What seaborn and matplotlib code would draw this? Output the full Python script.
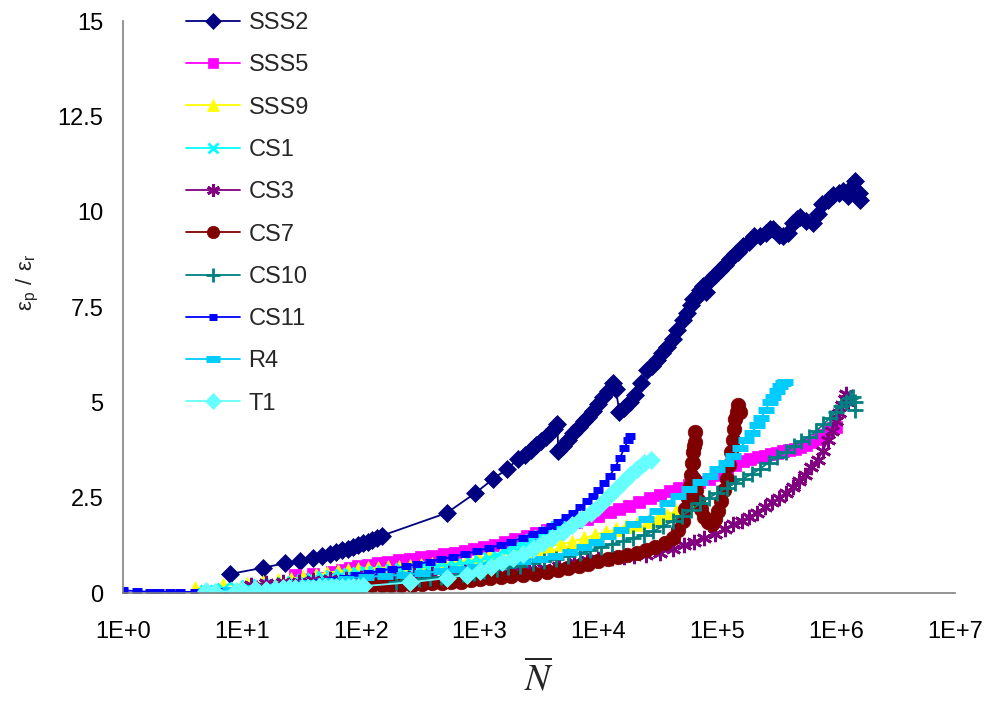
import math
import matplotlib
matplotlib.use("Agg")
import matplotlib.pyplot as plt
import seaborn as sns
from matplotlib.ticker import FixedLocator, FuncFormatter, NullLocator

# ---- data: number of cycles N and strain ratio eps_p / eps_r ----
sss2_n = [8, 15, 23, 31, 40, 47, 55, 62, 70, 78, 86, 95, 105, 115, 125, 138, 150,
          530, 920, 1300, 1700, 2100, 2400, 2700, 3000, 3300, 3600, 3900, 4200, 4500,
          4600, 5000, 5500, 6100, 6800, 7500, 8200, 9000, 10000, 11000, 12000, 13300,
          14000, 15000, 16500, 18500, 20500, 23000, 25800, 28000, 31000, 34000, 38000,
          42000, 46000, 51700, 56000, 60000, 63000, 68000, 72000, 76000, 80000, 86000,
          95000, 106000, 116000, 127000, 140000, 150000, 165000, 185000, 205000, 230000,
          255000, 275000, 296000, 330000, 360000, 390000, 430000, 470000, 500000, 560000,
          640000, 700000, 760000, 846000, 950000, 1050000, 1150000, 1250000, 1350000,
          1450000, 1550000, 1600000]
sss2_y = [0.50, 0.66, 0.78, 0.83, 0.92, 0.97, 1.02, 1.07, 1.12, 1.15, 1.20, 1.25, 1.30,
          1.35, 1.40, 1.45, 1.50,
          2.10, 2.62, 2.99, 3.25, 3.51, 3.62, 3.75, 3.88, 3.98, 4.10, 4.20, 4.30, 4.42,
          3.72, 3.85, 4.00, 4.20, 4.35, 4.50, 4.62, 4.78, 4.95, 5.15, 5.30, 5.50,
          5.35, 4.75, 4.85, 5.00, 5.20, 5.50, 5.85, 5.95, 6.10, 6.30, 6.45,
          6.65, 6.90, 7.16, 7.35, 7.55, 7.70, 7.75, 7.95, 8.05, 7.90, 8.20,
          8.35, 8.47, 8.60, 8.75, 8.90, 8.95, 9.10, 9.20, 9.35, 9.35,
          9.45, 9.55, 9.55, 9.40, 9.35, 9.45, 9.70, 9.80, 9.85, 9.75,
          9.70, 9.95, 10.20, 10.30, 10.45, 10.50, 10.55, 10.40, 10.65,
          10.80, 10.50, 10.30]

sss5_n = [28, 40, 57, 70, 81, 95, 115, 140, 170, 210, 260, 320, 400, 500, 620, 750, 900,
          1100, 1350, 1650, 2000, 2500, 3000, 3700, 4500, 5500, 6500, 8000, 10000, 12500,
          15000, 18000, 22000, 27000, 33000, 40000, 48000, 58000, 70000, 85000, 100000,
          120000, 140000, 165000, 190000, 220000, 250000, 285000, 320000, 360000, 400000,
          450000, 500000, 560000, 630000, 700000, 780000, 860000, 940000, 1000000]
sss5_y = [0.47, 0.50, 0.55, 0.60, 0.65, 0.70, 0.74, 0.78, 0.82, 0.86, 0.90, 0.94, 0.98,
          1.02, 1.06, 1.10, 1.15, 1.20, 1.27, 1.35, 1.42, 1.50, 1.57, 1.65, 1.72, 1.80,
          1.86, 1.94, 2.02, 2.12, 2.20, 2.28, 2.38, 2.48, 2.58, 2.68, 2.76, 2.83, 2.90,
          2.98, 3.10, 3.22, 3.35, 3.45, 3.52, 3.57, 3.60, 3.64, 3.68, 3.72, 3.75, 3.78,
          3.82, 3.88, 3.95, 4.05, 4.15, 4.25, 4.32, 4.35]

sss9_n = [4, 7, 11, 15, 20, 26, 33, 42, 52, 64, 78, 95, 115, 140, 170, 210, 260, 320,
          400, 500, 620, 780, 970, 1200, 1500, 1900, 2400, 3000, 3800, 4800, 6000, 7500,
          9300, 11500, 14000, 17000, 21000, 26000, 32000, 38000, 45000, 53000, 63000]
sss9_y = [0.12, 0.20, 0.24, 0.28, 0.33, 0.38, 0.43, 0.48, 0.53, 0.57, 0.60, 0.63, 0.65,
          0.66, 0.67, 0.69, 0.71, 0.73, 0.75, 0.78, 0.81, 0.86, 0.91, 0.96, 1.01, 1.07,
          1.12, 1.18, 1.23, 1.28, 1.34, 1.43, 1.52, 1.60, 1.67, 1.75, 1.82, 1.89, 1.97,
          2.05, 2.14, 2.25, 2.38]

cs1_n = [5, 7, 9, 11, 14, 18, 22, 27, 33, 40, 48, 57, 68, 80, 95, 110, 130, 155, 185,
         220, 260, 310, 370, 440, 520, 620, 730, 850, 1000, 1200, 1400, 1650, 1950, 2300,
         2700, 3200, 3800, 4500, 5300, 6100, 7000]
cs1_y = [0.06, 0.10, 0.14, 0.18, 0.20, 0.24, 0.26, 0.30, 0.34, 0.38, 0.42, 0.45, 0.48,
         0.50, 0.52, 0.54, 0.56, 0.58, 0.60, 0.62, 0.64, 0.66, 0.68, 0.70, 0.72, 0.74,
         0.76, 0.80, 0.85, 0.92, 1.00, 1.10, 1.20, 1.30, 1.40, 1.50, 1.60, 1.72, 1.82,
         1.91, 2.00]

cs3_n = [12, 16, 22, 30, 40, 55, 75, 100, 140, 200, 280, 400, 550, 750, 1000, 1400, 1900,
         2600, 3500, 4700, 6200, 8000, 10000, 13000, 16500, 20000, 25000, 33000, 42000,
         52000, 64000, 78000, 95000, 115000, 136000, 160000, 185000, 215000, 250000,
         290000, 330000, 380000, 430000, 490000, 550000, 620000, 700000, 770000, 850000,
         920000, 1000000, 1060000, 1120000, 1180000, 1220000, 1250000]
cs3_y = [0.22, 0.26, 0.28, 0.30, 0.33, 0.36, 0.38, 0.40, 0.42, 0.45, 0.48, 0.50, 0.52,
         0.54, 0.55, 0.58, 0.60, 0.62, 0.66, 0.72, 0.80, 0.86, 0.90, 0.93, 0.95, 0.97,
         1.00, 1.05, 1.15, 1.25, 1.35, 1.45, 1.55, 1.68, 1.80, 1.90, 2.00, 2.10, 2.25,
         2.38, 2.50, 2.62, 2.78, 2.95, 3.10, 3.30, 3.50, 3.72, 4.00, 4.25, 4.50, 4.72,
         4.92, 5.10, 5.22, 5.00]

cs7_n = [100, 125, 150, 180, 220, 270, 330, 400, 480, 580, 700, 850, 1000, 1230, 1500,
         1850, 2340, 2900, 3700, 4600, 5600, 6800, 8200, 10000, 12000, 14500, 17500,
         21000, 25000, 30000, 36000, 42000, 47000, 51000, 54000, 56500, 58500, 60000,
         61500, 63000, 64500, 65500, 64000, 62500, 64000, 66500, 69000, 73000, 78000,
         84000, 90000, 96000, 102000, 108000, 114000, 120000, 126000, 131000, 135000,
         139000, 142000, 146000, 150000, 155000]
cs7_y = [0.20, 0.20, 0.21, 0.21, 0.22, 0.22, 0.23, 0.25, 0.26, 0.28, 0.30, 0.33, 0.36,
         0.39, 0.43, 0.45, 0.47, 0.50, 0.55, 0.60, 0.65, 0.70, 0.76, 0.83, 0.90, 0.95,
         1.00, 1.05, 1.12, 1.20, 1.30, 1.45, 1.65, 1.90, 2.20, 2.50, 2.80, 3.10, 3.40,
         3.70, 3.95, 4.22, 3.85, 3.40, 3.00, 2.70, 2.45, 2.20, 2.00, 1.85, 1.80, 1.95,
         2.15, 2.40, 2.70, 3.00, 3.35, 3.70, 4.00, 4.30, 4.55, 4.75, 4.93, 4.75]

cs10_n = [200, 250, 310, 380, 470, 580, 720, 900, 1100, 1400, 1750, 2200, 2800, 3500,
          4400, 5500, 7000, 8500, 10500, 13000, 16000, 19500, 24000, 29000, 35000, 42000,
          50000, 60000, 72000, 85000, 100000, 120000, 140000, 165000, 195000, 230000,
          270000, 320000, 380000, 440000, 510000, 590000, 680000, 780000, 880000, 990000,
          1100000, 1200000, 1300000, 1380000, 1430000, 1450000]
cs10_y = [0.30, 0.33, 0.36, 0.40, 0.43, 0.46, 0.50, 0.53, 0.57, 0.62, 0.67, 0.72, 0.78,
          0.84, 0.90, 0.96, 1.04, 1.12, 1.20, 1.28, 1.36, 1.44, 1.52, 1.62, 1.75, 1.88,
          2.02, 2.18, 2.35, 2.50, 2.62, 2.76, 2.88, 3.00, 3.12, 3.26, 3.42, 3.57, 3.70,
          3.85, 3.98, 4.10, 4.25, 4.42, 4.58, 4.75, 4.90, 5.02, 5.12, 5.15, 5.00, 4.80]

cs11_n = [1, 1.3, 1.7, 2, 2.5, 3, 4, 5, 6.5, 8, 10, 13, 17, 22, 28, 35, 45, 57, 72, 90,
          115, 145, 185, 240, 300, 380, 470, 600, 750, 950, 1200, 1500, 1850, 2300, 2800,
          3400, 4000, 4600, 5300, 6100, 7000, 8000, 9000, 10000, 11200, 12500, 13800,
          15200, 16500, 17800, 18600]
cs11_y = [0.07, 0.05, 0.03, 0.03, 0.03, 0.03, 0.03, 0.04, 0.04, 0.05, 0.06, 0.07, 0.09,
          0.12, 0.17, 0.22, 0.28, 0.34, 0.40, 0.46, 0.52, 0.58, 0.64, 0.70, 0.76, 0.82,
          0.88, 0.95, 1.02, 1.10, 1.18, 1.26, 1.35, 1.45, 1.55, 1.66, 1.76, 1.86, 1.98,
          2.10, 2.25, 2.40, 2.55, 2.70, 2.88, 3.08, 3.30, 3.55, 3.80, 4.00, 4.12]

r4_n = [5, 8, 12, 18, 25, 35, 50, 75, 110, 160, 230, 330, 470, 650, 900, 1250, 1700,
        2300, 3200, 4300, 5800, 7500, 9500, 12000, 15500, 19500, 25000, 31000, 38000,
        47000, 58000, 72000, 86000, 100000, 118000, 136000, 155000, 175000, 195000,
        215000, 235000, 255000, 275000, 295000, 315000, 335000, 355000, 370000]
r4_y = [0.05, 0.08, 0.12, 0.17, 0.22, 0.27, 0.32, 0.38, 0.42, 0.45, 0.48, 0.52, 0.57,
        0.62, 0.68, 0.74, 0.80, 0.85, 0.90, 0.98, 1.08, 1.20, 1.35, 1.50, 1.65, 1.80,
        1.95, 2.15, 2.35, 2.55, 2.72, 2.90, 3.08, 3.25, 3.42, 3.60, 3.80, 4.00, 4.20,
        4.40, 4.60, 4.80, 5.00, 5.15, 5.30, 5.42, 5.50, 5.53]

t1_n = [5, 6, 9, 10, 13, 16, 19, 22, 25, 28, 32, 36, 40, 45, 50, 56, 62, 70, 78, 86, 95,
        105, 260, 530, 790, 1000, 1250, 1550, 1900, 2300, 2800, 3400, 4100, 5000, 6000,
        7200, 8600, 10000, 11800, 13800, 16000, 18500, 21000, 24000, 27500]
t1_y = [0.05, 0.03, 0.05, 0.08, 0.10, 0.08, 0.10, 0.12, 0.12, 0.13, 0.13, 0.14, 0.14,
        0.15, 0.15, 0.15, 0.16, 0.16, 0.16, 0.17, 0.17, 0.18, 0.28, 0.39, 0.48, 0.58,
        0.68, 0.80, 0.92, 1.03, 1.15, 1.30, 1.45, 1.60, 1.78, 1.95, 2.10, 2.25, 2.50,
        2.70, 2.90, 3.10, 3.25, 3.40, 3.50]

labels = ["SSS2", "SSS5", "SSS9", "CS1", "CS3", "CS7", "CS10", "CS11", "R4", "T1"]
x_ticks = [1e0, 1e1, 1e2, 1e3, 1e4, 1e5, 1e6, 1e7]
y_ticks = [0, 2.5, 5, 7.5, 10, 12.5, 15]

# ---- styling ----
sns.set_theme(style="white")
plt.rcParams["font.family"] = ["Liberation Sans", "DejaVu Sans"]

styles = {
    "SSS2": dict(color="#000080", marker="D", ms=9.0, mew=0.5),
    "SSS5": dict(color="#FF00FF", marker="s", ms=9.0, mew=0.5),
    "SSS9": dict(color="#FFFF00", marker="^", ms=10.5, mew=0.5),
    "CS1": dict(color="#00FFFF", marker="x", ms=9.0, mew=2.0),
    "CS3": dict(color="#800080", marker=(6, 2, 0), ms=11.0, mew=2.0),
    "CS7": dict(color="#800000", marker="o", ms=10.5, mew=0.5),
    "CS10": dict(color="#008080", marker="+", ms=12.0, mew=2.0),
    "CS11": dict(color="#0000FF", marker="_", ms=7.0, mew=5.0),
    "R4": dict(color="#00CCFF", marker="_", ms=12.0, mew=5.0),
    "T1": dict(color="#66FFFF", marker="D", ms=9.0, mew=0.5),
}
data = {
    "SSS2": (sss2_n, sss2_y), "SSS5": (sss5_n, sss5_y), "SSS9": (sss9_n, sss9_y),
    "CS1": (cs1_n, cs1_y), "CS3": (cs3_n, cs3_y), "CS7": (cs7_n, cs7_y),
    "CS10": (cs10_n, cs10_y), "CS11": (cs11_n, cs11_y), "R4": (r4_n, r4_y),
    "T1": (t1_n, t1_y),
}

fig = plt.figure(figsize=(9.88, 7.01), dpi=100)
ax = fig.add_axes([123 / 988, 1 - 593 / 701, (955 - 123) / 988, (593 - 21) / 701])

for name in labels:
    n, y = data[name]
    st = styles[name]
    sns.lineplot(x=n, y=y, sort=False, estimator=None, ax=ax, color=st["color"],
                 marker=st["marker"], markersize=st["ms"],
                 markeredgecolor=st["color"], markerfacecolor=st["color"],
                 markeredgewidth=st["mew"], linewidth=1.3, label=name)

ax.set_xscale("log")
ax.set_xlim(1, 1e7)
ax.set_ylim(0, 15)
ax.xaxis.set_major_locator(FixedLocator(x_ticks))
ax.xaxis.set_minor_locator(NullLocator())
ax.xaxis.set_major_formatter(FuncFormatter(lambda v, p: f"1E+{int(round(math.log10(v)))}"))
ax.yaxis.set_major_locator(FixedLocator(y_ticks))
ax.yaxis.set_major_formatter(FuncFormatter(lambda v, p: f"{v:g}"))

for side in ("top", "right"):
    ax.spines[side].set_visible(False)
for side in ("left", "bottom"):
    ax.spines[side].set_color("#808080")
    ax.spines[side].set_linewidth(1.2)

ax.tick_params(axis="both", which="major", direction="out", length=6, width=1.1,
               color="#808080", labelcolor="black", labelsize=17)
ax.tick_params(axis="x", pad=14)
ax.tick_params(axis="y", pad=8)
ax.grid(False)

ax.set_xlabel(r"$\overline{N}$", math_fontfamily="stix", fontsize=27)
ax.xaxis.label.set_va("center")
ax.xaxis.set_label_coords(0.5, (593 - 679) / 572)

ax.set_ylabel(r"$\mathregular{ε_p\ /\ ε_r}$", fontsize=16)
ax.yaxis.label.set_va("center")
ax.yaxis.set_label_coords((28 - 123) / 832, (593 - 282) / 572)

handles, names = ax.get_legend_handles_labels()
if ax.get_legend() is not None:
    ax.get_legend().remove()
fig.legend(handles, names, loc="upper left", bbox_to_anchor=(186 / 988, 1 - 12 / 701),
           bbox_transform=fig.transFigure, frameon=False, fontsize=17, numpoints=1,
           markerscale=0.85, handlelength=2.3, handletextpad=0.35, labelspacing=0.86,
           borderpad=0, borderaxespad=0)

fig.savefig("out.png", dpi=100)
